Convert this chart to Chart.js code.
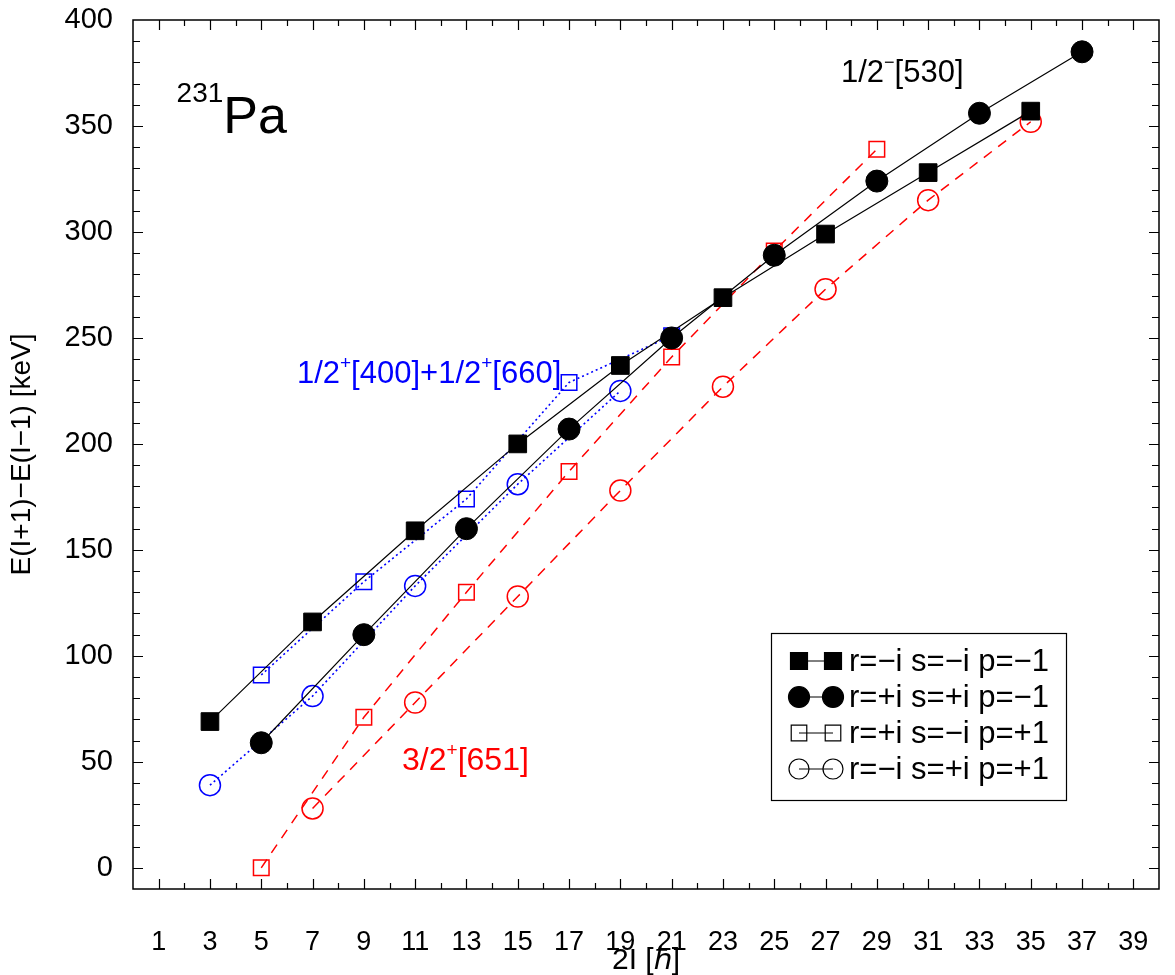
<!DOCTYPE html>
<html><head><meta charset="utf-8">
<script src="https://cdn.jsdelivr.net/npm/chart.js@4/dist/chart.umd.min.js"></script>
<style>html,body{margin:0;padding:0;background:#fff}#wrap{width:1175px;height:975px}</style>
</head><body><div id="wrap"><canvas id="c" width="1175" height="975"></canvas></div>
<script>
const FONT = '"Liberation Sans", Arial, Helvetica, sans-serif';

// tick labels
const xTickValues = [1,3,5,7,9,11,13,15,17,19,21,23,25,27,29,31,33,35,37,39];
const yTickValues = [0,50,100,150,200,250,300,350,400];

// 1/2-[530]  (black)
const bandAx = [3,7,11,15,19,23,27,31,35];          // r=-i s=-i p=-1 (filled squares)
const bandAy = [69,116,159,200,237,269,299,328,357];
const bandBx = [5,9,13,17,21,25,29,33,37];          // r=+i s=+i p=-1 (filled circles)
const bandBy = [59,110,160,207,250,289,324,356,385];
// 1/2+[400]+1/2+[660]  (blue)
const bandCx = [5,9,13,17,21];                      // r=+i s=-i p=+1 (open squares)
const bandCy = [91,135,174,229,251];
const bandDx = [3,7,11,15,19];                      // r=-i s=+i p=+1 (open circles)
const bandDy = [39,81,133,181,225];
// 3/2+[651]  (red)
const bandEx = [5,9,13,17,21,25,29];                // open squares
const bandEy = [0,71,130,187,241,291,339];
const bandFx = [7,11,15,19,23,27,31,35];            // open circles
const bandFy = [28,78,128,178,227,273,315,352];

const legendLabels = ['r=\u2212i s=\u2212i p=\u22121','r=+i s=+i p=\u22121','r=+i s=\u2212i p=+1','r=\u2212i s=+i p=+1'];
const xTitle = '2I [\u210F]';
const yTitle = 'E(I+1)\u2212E(I\u22121) [keV]';

function pts(xs, ys){ return xs.map((x,i)=>({x:x, y:ys[i]})); }

const BLUE = '#0000ff', RED = '#ff0000', BLACK = '#000000';
const datasets = [
  {label:legendLabels[0], data:pts(bandAx,bandAy), showLine:true, borderColor:BLACK, borderWidth:1.2,
   pointStyle:'rect', pointRadius:12.5, pointBackgroundColor:BLACK, pointBorderColor:BLACK, pointBorderWidth:1},
  {label:legendLabels[1], data:pts(bandBx,bandBy), showLine:true, borderColor:BLACK, borderWidth:1.2,
   pointStyle:'circle', pointRadius:11, pointBackgroundColor:BLACK, pointBorderColor:BLACK, pointBorderWidth:1},
  {label:legendLabels[2], data:pts(bandCx,bandCy), showLine:true, borderColor:BLUE, borderWidth:1.6, borderDash:[2,3],
   pointStyle:'rect', pointRadius:11, pointBackgroundColor:'rgba(0,0,0,0)', pointBorderColor:BLUE, pointBorderWidth:1.5},
  {label:legendLabels[3], data:pts(bandDx,bandDy), showLine:true, borderColor:BLUE, borderWidth:1.6, borderDash:[2,3],
   pointStyle:'circle', pointRadius:10.5, pointBackgroundColor:'rgba(0,0,0,0)', pointBorderColor:BLUE, pointBorderWidth:1.5},
  {label:legendLabels[2], data:pts(bandEx,bandEy), showLine:true, borderColor:RED, borderWidth:1.5, borderDash:[10,8],
   pointStyle:'rect', pointRadius:11, pointBackgroundColor:'rgba(0,0,0,0)', pointBorderColor:RED, pointBorderWidth:1.5},
  {label:legendLabels[3], data:pts(bandFx,bandFy), showLine:true, borderColor:RED, borderWidth:1.5, borderDash:[10,8],
   pointStyle:'circle', pointRadius:10.5, pointBackgroundColor:'rgba(0,0,0,0)', pointBorderColor:RED, pointBorderWidth:1.5}
];

// annotations (data-coordinate anchors)
const annotations = [
  {x:1.70, y:346.7, color:BLACK, parts:[{t:'231',size:28,dy:-31},{t:'Pa',size:52}]},
  {x:27.6, y:370.8, color:BLACK, parts:[{t:'1/2',size:31},{t:'\u2212',size:18,dy:-14},{t:'[530]',size:31}]},
  {x:6.39, y:228.8, color:BLUE, parts:[{t:'1/2',size:31},{t:'+',size:19,dy:-14},{t:'[400]+1/2',size:31},{t:'+',size:19,dy:-14},{t:'[660]',size:31}]},
  {x:10.49, y:46.2, color:RED, parts:[{t:'3/2',size:32},{t:'+',size:19,dy:-14},{t:'[651]',size:32}]}
];

function drawRich(ctx, parts, x, y, color){
  ctx.save();
  ctx.fillStyle = color; ctx.textBaseline = 'alphabetic'; ctx.textAlign = 'left';
  let cx = x;
  for (const p of parts){
    ctx.font = p.size + 'px ' + FONT;
    ctx.fillText(p.t, cx, y + (p.dy||0));
    cx += ctx.measureText(p.t).width;
  }
  ctx.restore();
}

const framePlugin = {
  id:'frame',
  afterDraw(chart){
    const ctx = chart.ctx, a = chart.chartArea, xs = chart.scales.x, ys = chart.scales.y;
    ctx.save();
    ctx.strokeStyle = '#000'; ctx.lineWidth = 1.5;
    ctx.strokeRect(a.left, a.top, a.right - a.left, a.bottom - a.top);
    ctx.lineWidth = 1.2;
    ctx.beginPath();
    for (let v = 1; v <= 39; v++){
      const px = Math.round(xs.getPixelForValue(v)) + 0.5;
      const len = (v % 2 === 1) ? 10 : 6;
      ctx.moveTo(px, a.bottom); ctx.lineTo(px, a.bottom - len);
      ctx.moveTo(px, a.top); ctx.lineTo(px, a.top + len);
    }
    for (let v = 0; v < 400; v += 10){
      const py = Math.round(ys.getPixelForValue(v)) + 0.5;
      const len = (v % 50 === 0) ? 10 : 7;
      ctx.moveTo(a.left, py); ctx.lineTo(a.left + len, py);
      ctx.moveTo(a.right, py); ctx.lineTo(a.right - len, py);
    }
    ctx.stroke();
    ctx.restore();

    for (const an of annotations){
      drawRich(ctx, an.parts, xs.getPixelForValue(an.x), ys.getPixelForValue(an.y), an.color);
    }

    // legend box (generic black symbols)
    const bx = 771, by = 633, bw = 295, bh = 167;
    ctx.save();
    ctx.fillStyle = '#fff'; ctx.fillRect(bx, by, bw, bh);
    ctx.strokeStyle = '#000'; ctx.lineWidth = 1.2; ctx.strokeRect(bx + 0.5, by + 0.5, bw, bh);
    const styles = [
      {ps:'rect', r:12, fill:'#000'},
      {ps:'circle', r:10.5, fill:'#000'},
      {ps:'rect', r:11, fill:'rgba(0,0,0,0)'},
      {ps:'circle', r:10, fill:'rgba(0,0,0,0)'}
    ];
    const rows = [661, 697, 733, 769];
    for (let i = 0; i < 4; i++){
      const yy = rows[i];
      ctx.beginPath(); ctx.strokeStyle = '#000'; ctx.lineWidth = 1; ctx.setLineDash([]);
      ctx.moveTo(799, yy); ctx.lineTo(833, yy); ctx.stroke();
      for (const xx of [799, 833]){
        ctx.fillStyle = styles[i].fill; ctx.strokeStyle = '#000'; ctx.lineWidth = 1.2;
        Chart.helpers.drawPoint(ctx, {pointStyle:styles[i].ps, radius:styles[i].r, rotation:0, borderWidth:1.2}, xx, yy);
      }
      ctx.fillStyle = '#000'; ctx.font = '31px ' + FONT; ctx.textBaseline = 'middle'; ctx.textAlign = 'left';
      ctx.fillText(legendLabels[i], 849, yy + 1);
    }
    ctx.restore();
  }
};

new Chart(document.getElementById('c').getContext('2d'), {
  type:'scatter',
  data:{datasets:datasets},
  options:{
    responsive:false, animation:false, devicePixelRatio:1,
    layout:{padding:{left:0, right:16, top:20, bottom:0}},
    plugins:{legend:{display:false}, tooltip:{enabled:false}},
    elements:{line:{tension:0, fill:false}},
    scales:{
      x:{type:'linear', min:0, max:40,
         afterBuildTicks:(s)=>{ s.ticks = xTickValues.map(v=>({value:v})); },
         afterFit:(s)=>{ s.height = 86; s.paddingLeft = 0; s.paddingRight = 0; },
         grid:{display:false, drawTicks:false}, border:{display:false},
         ticks:{color:'#000', font:{size:27, family:FONT}, padding:37, maxRotation:0, autoSkip:false},
         title:{display:true, text:xTitle, color:'#000', font:{size:30, family:FONT, lineHeight:1.0}, padding:{top:0, bottom:-1}}},
      y:{type:'linear', min:-10, max:400,
         afterBuildTicks:(s)=>{ s.ticks = yTickValues.map(v=>({value:v})); },
         afterFit:(s)=>{ s.width = 133; s.paddingTop = 0; s.paddingBottom = 0; },
         grid:{display:false, drawTicks:false}, border:{display:false},
         ticks:{color:'#000', font:{size:29, family:FONT}, padding:20, autoSkip:false},
         title:{display:true, text:yTitle, color:'#000', font:{size:28, family:FONT}, padding:{top:5, bottom:0}}}
    }
  },
  plugins:[framePlugin]
});
</script></body></html>
